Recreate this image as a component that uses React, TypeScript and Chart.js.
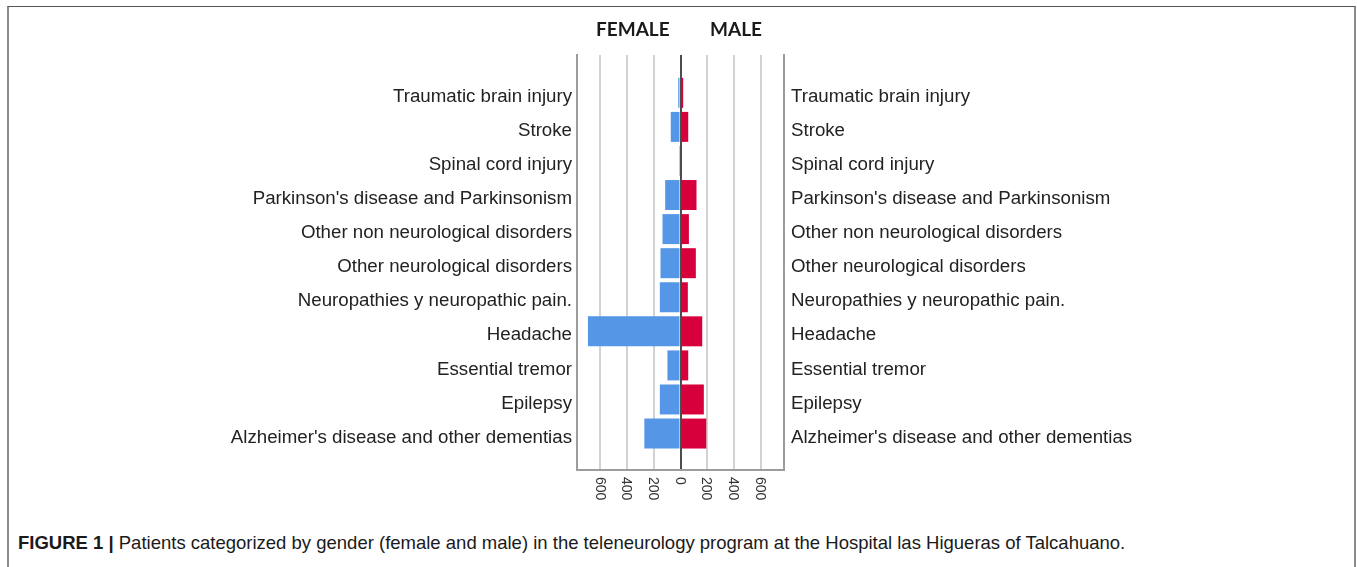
import React, { useEffect, useRef } from "react";
import { Chart, registerables } from "chart.js";

Chart.register(...registerables);

const categories: string[] = [
  "Traumatic brain injury",
  "Stroke",
  "Spinal cord injury",
  "Parkinson's disease and Parkinsonism",
  "Other non neurological disorders",
  "Other neurological disorders",
  "Neuropathies y neuropathic pain.",
  "Headache",
  "Essential tremor",
  "Epilepsy",
  "Alzheimer's disease and other dementias",
];

const femaleValues: number[] = [17, 73, 4, 115, 135, 150, 155, 694, 98, 155, 271];
const maleValues: number[] = [20, 58, 8, 120, 63, 115, 55, 163, 58, 175, 193];

const xTickValues: number[] = [-600, -400, -200, 0, 200, 400, 600];
const xTickLabels: string[] = ["600", "400", "200", "0", "200", "400", "600"];

const FONT = '"Liberation Sans", Arial, Helvetica, sans-serif';

const xTickTextPlugin = {
  id: "xTickText",
  afterDraw(chart: any) {
    const sx = chart.scales.x;
    const ctx = chart.ctx;
    ctx.save();
    ctx.fillStyle = "#333333";
    ctx.font = `14px ${FONT}`;
    ctx.textAlign = "left";
    ctx.textBaseline = "middle";
    xTickValues.forEach((v, i) => {
      const px = sx.getPixelForValue(v);
      ctx.save();
      ctx.translate(px - 1, chart.chartArea.bottom + 7);
      ctx.rotate(Math.PI / 2);
      ctx.fillText(xTickLabels[i], 0, 0);
      ctx.restore();
    });
    ctx.restore();
  },
};

export default function App() {
  const ref = useRef<HTMLCanvasElement | null>(null);

  useEffect(() => {
    document.body.style.margin = "0";
    const canvas = ref.current;
    if (!canvas) return;
    const yCommon = (side: "left" | "right", width: number, pad: number) => ({
      type: "linear" as const,
      position: side,
      reverse: true,
      offset: false,
      min: -1.11,
      max: 11.07,
      afterBuildTicks: (s: any) => {
        s.ticks = categories.map((_, i) => ({ value: i }));
      },
      afterFit: (s: any) => {
        s.width = width;
      },
      ticks: {
        autoSkip: false,
        padding: pad,
        labelOffset: 4,
        color: "#222222",
        font: { family: FONT, size: 18.7 },
        callback: (v: any) => categories[v as number] ?? "",
      },
      grid: { display: false, drawTicks: false, offset: false },
      border: { display: true, color: "#9c9c9c", width: 2 },
    });

    const chart = new Chart(canvas, {
      type: "bar",
      data: {
        datasets: [
          {
            label: "FEMALE",
            data: categories.map((_, i) => ({ x: -femaleValues[i], y: i })),
            backgroundColor: "#5596E6",
            borderWidth: 0,
            grouped: false,
            barPercentage: 0.88,
            categoryPercentage: 1,
          },
          {
            label: "MALE",
            data: categories.map((_, i) => ({ x: maleValues[i], y: i })),
            backgroundColor: "#D7003C",
            borderWidth: 0,
            grouped: false,
            barPercentage: 0.88,
            categoryPercentage: 1,
          },
        ] as any,
      },
      options: {
        responsive: false,
        animation: false,
        devicePixelRatio: 1,
        indexAxis: "y",
        layout: { padding: { top: 55, left: 0, right: 0, bottom: 0 } },
        plugins: {
          legend: { display: false },
          tooltip: { enabled: false },
          title: { display: false },
        },
        scales: {
          x: {
            type: "linear",
            min: -776,
            max: 776,
            afterBuildTicks: (s: any) => {
              s.ticks = xTickValues.map((v) => ({ value: v }));
            },
            afterFit: (s: any) => {
              s.height = 40;
            },
            ticks: { display: false },
            grid: {
              color: (c: any) => (c.tick && c.tick.value === 0 ? "#4d4d4d" : "#d2d2d2"),
              lineWidth: 2,
              drawTicks: false,
            },
            border: { display: true, color: "#9c9c9c", width: 2 },
          },
          y: yCommon("left", 577, 5) as any,
          y2: yCommon("right", 573, 7) as any,
        },
      },
      plugins: [xTickTextPlugin],
    });
    return () => chart.destroy();
  }, []);

  return (
    <div
      style={{
        position: "relative",
        width: 1357,
        height: 567,
        overflow: "hidden",
        background: "#ffffff",
      }}
    >
      <div
        style={{
          position: "absolute",
          left: 7,
          top: 6,
          width: 1349,
          height: 700,
          boxSizing: "border-box",
          borderTop: "1px solid #555555",
          borderLeft: "2px solid #8a8a8a",
          borderRight: "2px solid #8a8a8a",
        }}
      />
      <canvas
        ref={ref}
        width={1357}
        height={510}
        style={{ position: "absolute", left: 0, top: 0, width: 1357, height: 510, display: "block" }}
      />
      <div
        style={{
          position: "absolute",
          left: 596,
          top: 19,
          font: `700 19px Lato, "Noto Sans", sans-serif`,
          lineHeight: "19px",
          color: "#1a1a1a",
          whiteSpace: "nowrap",
        }}
      >
        FEMALE
      </div>
      <div
        style={{
          position: "absolute",
          left: 710,
          top: 19,
          font: `700 19px Lato, "Noto Sans", sans-serif`,
          lineHeight: "19px",
          color: "#1a1a1a",
          whiteSpace: "nowrap",
        }}
      >
        MALE
      </div>
      <div
        style={{
          position: "absolute",
          left: 18,
          top: 534,
          font: `18.5px ${FONT}`,
          lineHeight: "18.5px",
          color: "#1a1a1a",
          whiteSpace: "nowrap",
        }}
      >
        <b>FIGURE 1 |</b> Patients categorized by gender (female and male) in the teleneurology program at the Hospital las Higueras of Talcahuano.
      </div>
    </div>
  );
}
